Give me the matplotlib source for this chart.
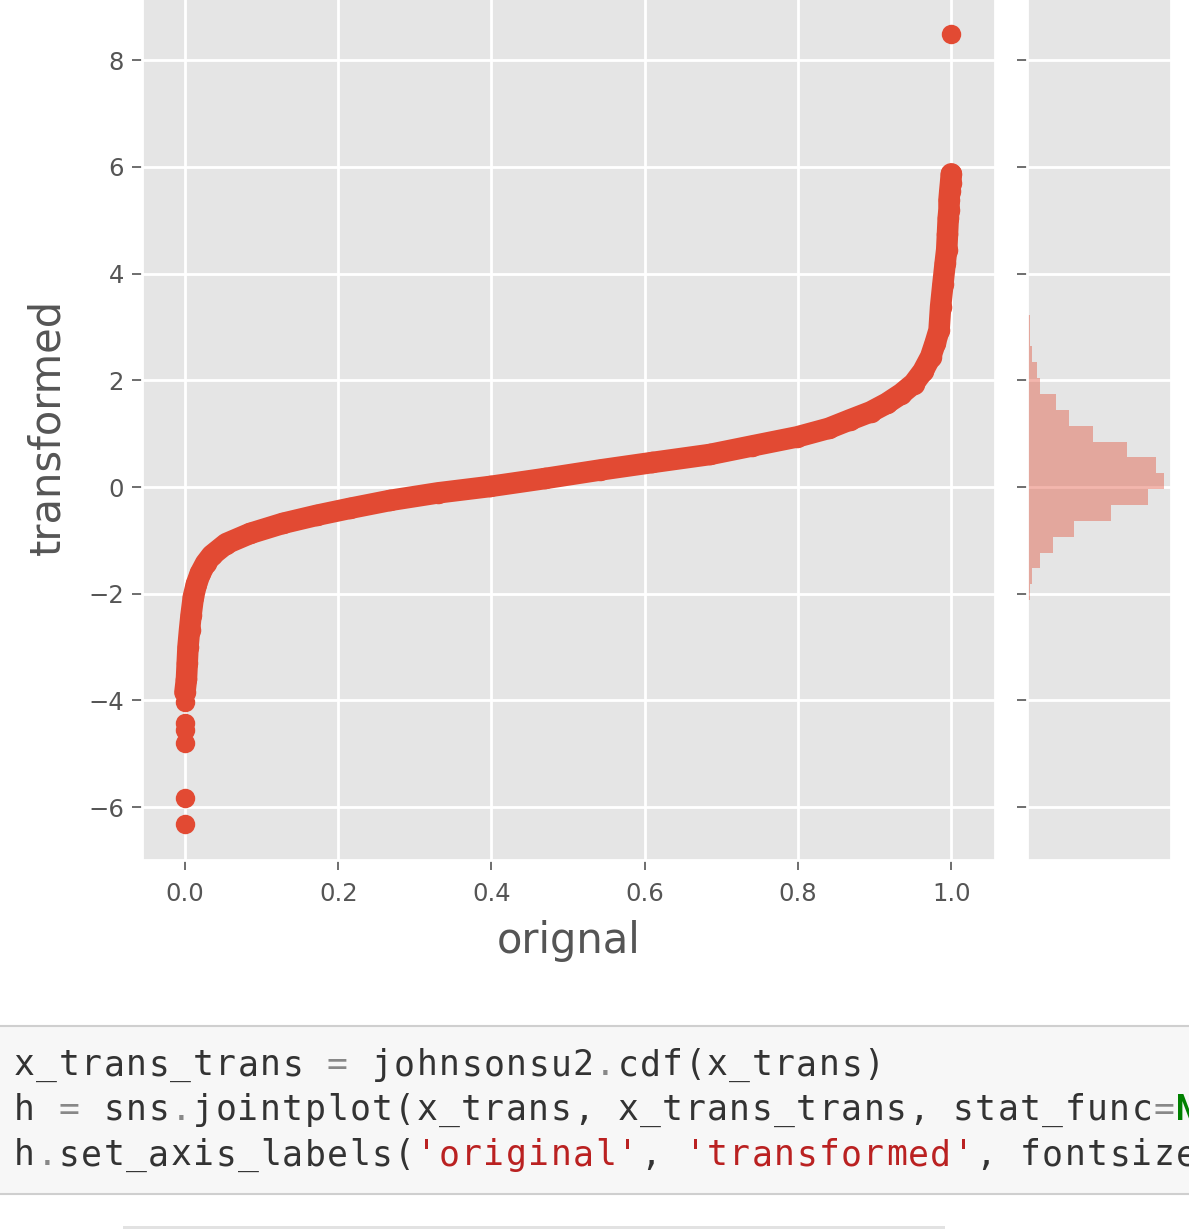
import matplotlib.pyplot as plt
from matplotlib.patches import Rectangle

# scatter: continuous part of the curve (orignal, transformed)
curve_x = [0.000, 0.002, 0.003, 0.004, 0.006, 0.008, 0.011, 0.015, 0.020, 0.027,
           0.035, 0.054, 0.085, 0.128, 0.172, 0.215, 0.268, 0.330, 0.398, 0.470,
           0.542, 0.610, 0.685, 0.740, 0.799, 0.840, 0.868, 0.895, 0.916, 0.935,
           0.951, 0.963, 0.973, 0.979, 0.984, 0.986, 0.989, 0.992, 0.994, 0.995,
           0.996, 0.997, 0.997, 0.998, 0.999, 1.000]
curve_y = [-3.85, -3.60, -3.30, -3.00, -2.68, -2.40, -2.06, -1.82, -1.62, -1.43,
           -1.28, -1.06, -0.87, -0.68, -0.53, -0.40, -0.25, -0.11, 0.01, 0.16,
           0.32, 0.46, 0.61, 0.77, 0.94, 1.10, 1.26, 1.41, 1.57, 1.75,
           1.94, 2.17, 2.44, 2.70, 2.94, 3.38, 3.80, 4.20, 4.45, 4.75,
           5.05, 5.20, 5.38, 5.55, 5.70, 5.87]

# isolated points in the tails
tail_x = [0.000, 0.000, 0.000, 0.000, 0.000, 0.000, 1.000]
tail_y = [-6.31, -5.82, -4.80, -4.56, -4.43, -4.02, 8.49]

# marginal histogram of transformed
hist_edges = [-2.12, -1.82, -1.52, -1.23, -0.93, -0.63, -0.33, -0.04, 0.26, 0.56,
              0.85, 1.15, 1.45, 1.75, 2.04, 2.34, 2.64, 2.93, 3.23]
hist_counts = [32, 60, 160, 320, 572, 1020, 1472, 1664, 1564, 1212,
               800, 504, 352, 152, 120, 64, 36, 36]

xticks = [0.0, 0.2, 0.4, 0.6, 0.8, 1.0]
yticks = [-6, -4, -2, 0, 2, 4, 6, 8]

code_lines = [
    [("x_trans_trans ", "txt"), ("=", "op"), (" johnsonsu2", "txt"), (".", "op"),
     ("cdf(x_trans)", "txt")],
    [("h ", "txt"), ("=", "op"), (" sns", "txt"), (".", "op"),
     ("jointplot(x_trans, x_trans_trans, stat_func", "txt"), ("=", "op"),
     ("None", "kw"), (")", "txt")],
    [("h", "txt"), (".", "op"), ("set_axis_labels(", "txt"), ("'original'", "str"),
     (", ", "txt"), ("'transformed'", "str"), (", fontsize", "txt"), ("=", "op"),
     ("16", "num"), (")", "txt")],
]
code_colors = {"txt": "#333333", "op": "#888888", "str": "#BA2121",
               "kw": "#008000", "num": "#008800"}

plt.style.use('ggplot')
W, H = 1189, 1229
fig = plt.figure(figsize=(W / 100, H / 100), dpi=100)


def fx(px):
    return px / W


def fy(py):
    return 1 - py / H


red = '#E24A33'
ax = fig.add_axes([fx(142), fy(860), fx(995) - fx(142), 866 / H])
axm = fig.add_axes([fx(1027), fy(860), fx(1171) - fx(1027), 866 / H], sharey=ax)

ax.plot(curve_x, curve_y, color=red, lw=15.5, solid_capstyle='round',
        solid_joinstyle='round', zorder=2)
ax.scatter(curve_x, curve_y, s=240, color=red, linewidths=0, zorder=3)
ax.scatter(tail_x, tail_y, s=196, color=red, linewidths=0, zorder=3)
ax.set_xlim(-0.056, 1.057)
ax.set_ylim(-6.99, 9.24)
ax.set_xticks(xticks)
ax.set_yticks(yticks)
ax.grid(True, color='white', linewidth=2)
ax.set_axisbelow(True)
for sp in ax.spines.values():
    sp.set_linewidth(2)
ax.tick_params(axis='both', labelsize=17.5, colors='#555555', length=7, width=1.2)
ax.tick_params(axis='y', pad=6)
ax.tick_params(axis='x', pad=9)
ax.set_xlabel('orignal', fontsize=30, color='#555555', labelpad=10)
ax.set_ylabel('transformed', fontsize=30, color='#555555', labelpad=14)

centers = [(a + b) / 2 for a, b in zip(hist_edges[:-1], hist_edges[1:])]
heights = [b - a for a, b in zip(hist_edges[:-1], hist_edges[1:])]
axm.barh(centers, hist_counts, height=heights, color=red, alpha=0.4, linewidth=0)
axm.grid(True, axis='y', color='white', linewidth=2)
axm.grid(False, axis='x')
axm.set_axisbelow(True)
for sp in axm.spines.values():
    sp.set_linewidth(2)
axm.tick_params(axis='y', labelleft=False, colors='#555555', length=7, width=1.2)
axm.tick_params(axis='x', bottom=False, labelbottom=False)

# notebook code cell underneath
fig.add_artist(Rectangle((fx(-5), fy(1193.5)), fx(W + 10), (1193.5 - 1025.5) / H,
                         transform=fig.transFigure, facecolor='#F7F7F7',
                         edgecolor='#CFCFCF', linewidth=1.5))
fig.add_artist(Rectangle((fx(123), fy(1229)), fx(945 - 123), 3 / H,
                         transform=fig.transFigure, facecolor='#E2E2E2',
                         edgecolor='none'))

# monospace grid: one character per cell, only cells that start inside the picture
cw = 22.35
baselines = [1075, 1120, 1165]
for line, base in zip(code_lines, baselines):
    col = 0
    for tok, kind in line:
        for ch in tok:
            x0 = 14 + col * cw
            if ch != ' ' and x0 < W:
                fig.text(fx(x0), fy(base), ch, fontsize=25,
                         family='DejaVu Sans Mono', color=code_colors[kind],
                         weight='bold' if kind == 'kw' else 'normal',
                         va='baseline', ha='left')
            col += 1

fig.savefig('out.png', dpi=100)
